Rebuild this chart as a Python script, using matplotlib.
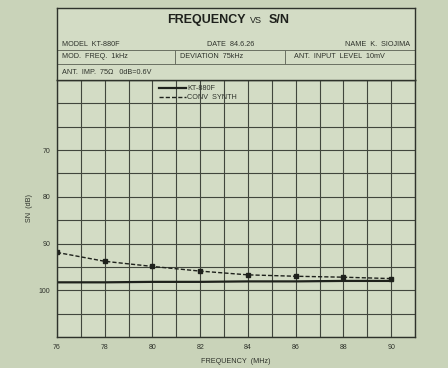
import matplotlib.pyplot as plt
from matplotlib.lines import Line2D

# datos
freq = [76, 78, 80, 82, 84, 86, 88, 90]
kt880f = [98.3, 98.3, 98.2, 98.2, 98.1, 98.1, 98.0, 98.0]
conv_synth = [91.9, 93.8, 94.9, 95.9, 96.7, 97.0, 97.2, 97.5]
xticks = [76, 78, 80, 82, 84, 86, 88, 90]
yticks = [70, 80, 90, 100]

fondo = "#c9d3b9"
papel = "#d3dcc5"
tinta = "#2e322b"

plt.rcParams['font.family'] = ['Liberation Sans', 'DejaVu Sans']

fig = plt.figure(figsize=(4.48, 3.68), dpi=100, facecolor=fondo)

# area del grafico
ax = fig.add_axes([57/448, 1 - 337/368, 358/448, 257/368])
ax.set_facecolor(papel)
ax.set_xlim(76, 91)
ax.set_ylim(110, 55)
ax.set_xticks(xticks)
ax.set_xticks(range(76, 92), minor=True)
ax.set_yticks(yticks)
ax.set_yticks(range(55, 111, 5), minor=True)
ax.grid(which='both', color="#41463d", linewidth=0.8)
ax.tick_params(which='both', length=0, labelsize=5, colors=tinta, pad=5)
for s in ax.spines.values():
    s.set_color(tinta)
    s.set_linewidth(1.0)

ax.plot(freq, kt880f, color="#1e211c", linewidth=1.6, label="KT-880F")
ax.plot(freq, conv_synth, color="#1e211c", linewidth=1.0, linestyle=(0, (3, 1.5)),
        label="CONV  SYNTH")
ax.plot(freq, conv_synth, color="#1e211c", linestyle='none', marker='s', markersize=2.2)

ax.set_xlabel("FREQUENCY  (MHz)", fontsize=5.2, color=tinta, labelpad=5)
ax.set_ylabel("SN  (dB)", fontsize=5.2, color=tinta, labelpad=4)

leg = ax.legend(loc='upper left', bbox_to_anchor=(0.27, 1.0), frameon=False,
                fontsize=5.2, handlelength=3.8, handletextpad=0.1,
                labelspacing=0.3, borderpad=0.2)
for t in leg.get_texts():
    t.set_color(tinta)

# cabecera
hd = fig.add_axes([57/448, 1 - 80/368, 358/448, 72/368])
hd.set_facecolor(papel)
hd.set_xlim(0, 358)
hd.set_ylim(72, 0)
hd.set_xticks([])
hd.set_yticks([])
for s in hd.spines.values():
    s.set_color(tinta)
    s.set_linewidth(1.0)

for yy in [42, 56]:
    hd.add_line(Line2D([0, 358], [yy, yy], color="#6a7062", linewidth=0.7))
hd.add_line(Line2D([118, 118], [42, 56], color="#6a7062", linewidth=0.7))
hd.add_line(Line2D([228, 228], [42, 56], color="#6a7062", linewidth=0.7))

hd.text(149, 12, "FREQUENCY", fontsize=9, fontweight='bold', color="#1e211c",
        ha='center', va='center')
hd.text(199, 12.5, "VS", fontsize=6.5, color="#1e211c", ha='center', va='center')
hd.text(222, 12, "S/N", fontsize=9, fontweight='bold', color="#1e211c",
        ha='center', va='center')

kw = dict(fontsize=5.2, color=tinta, va='center')
hd.text(5, 36, "MODEL  KT-880F", **kw)
hd.text(174, 36, "DATE  84.6.26", ha='center', **kw)
hd.text(353, 36, "NAME  K.  SIOJIMA", ha='right', **kw)
hd.text(5, 49, "MOD.  FREQ.  1kHz", **kw)
hd.text(123, 49, "DEVIATION  75kHz", **kw)
hd.text(237, 49, "ANT.  INPUT  LEVEL  10mV", **kw)
hd.text(5, 64, "ANT.  IMP.  75\u03a9   0dB=0.6V", **kw)

fig.savefig("out.png", dpi=100, facecolor=fondo)
